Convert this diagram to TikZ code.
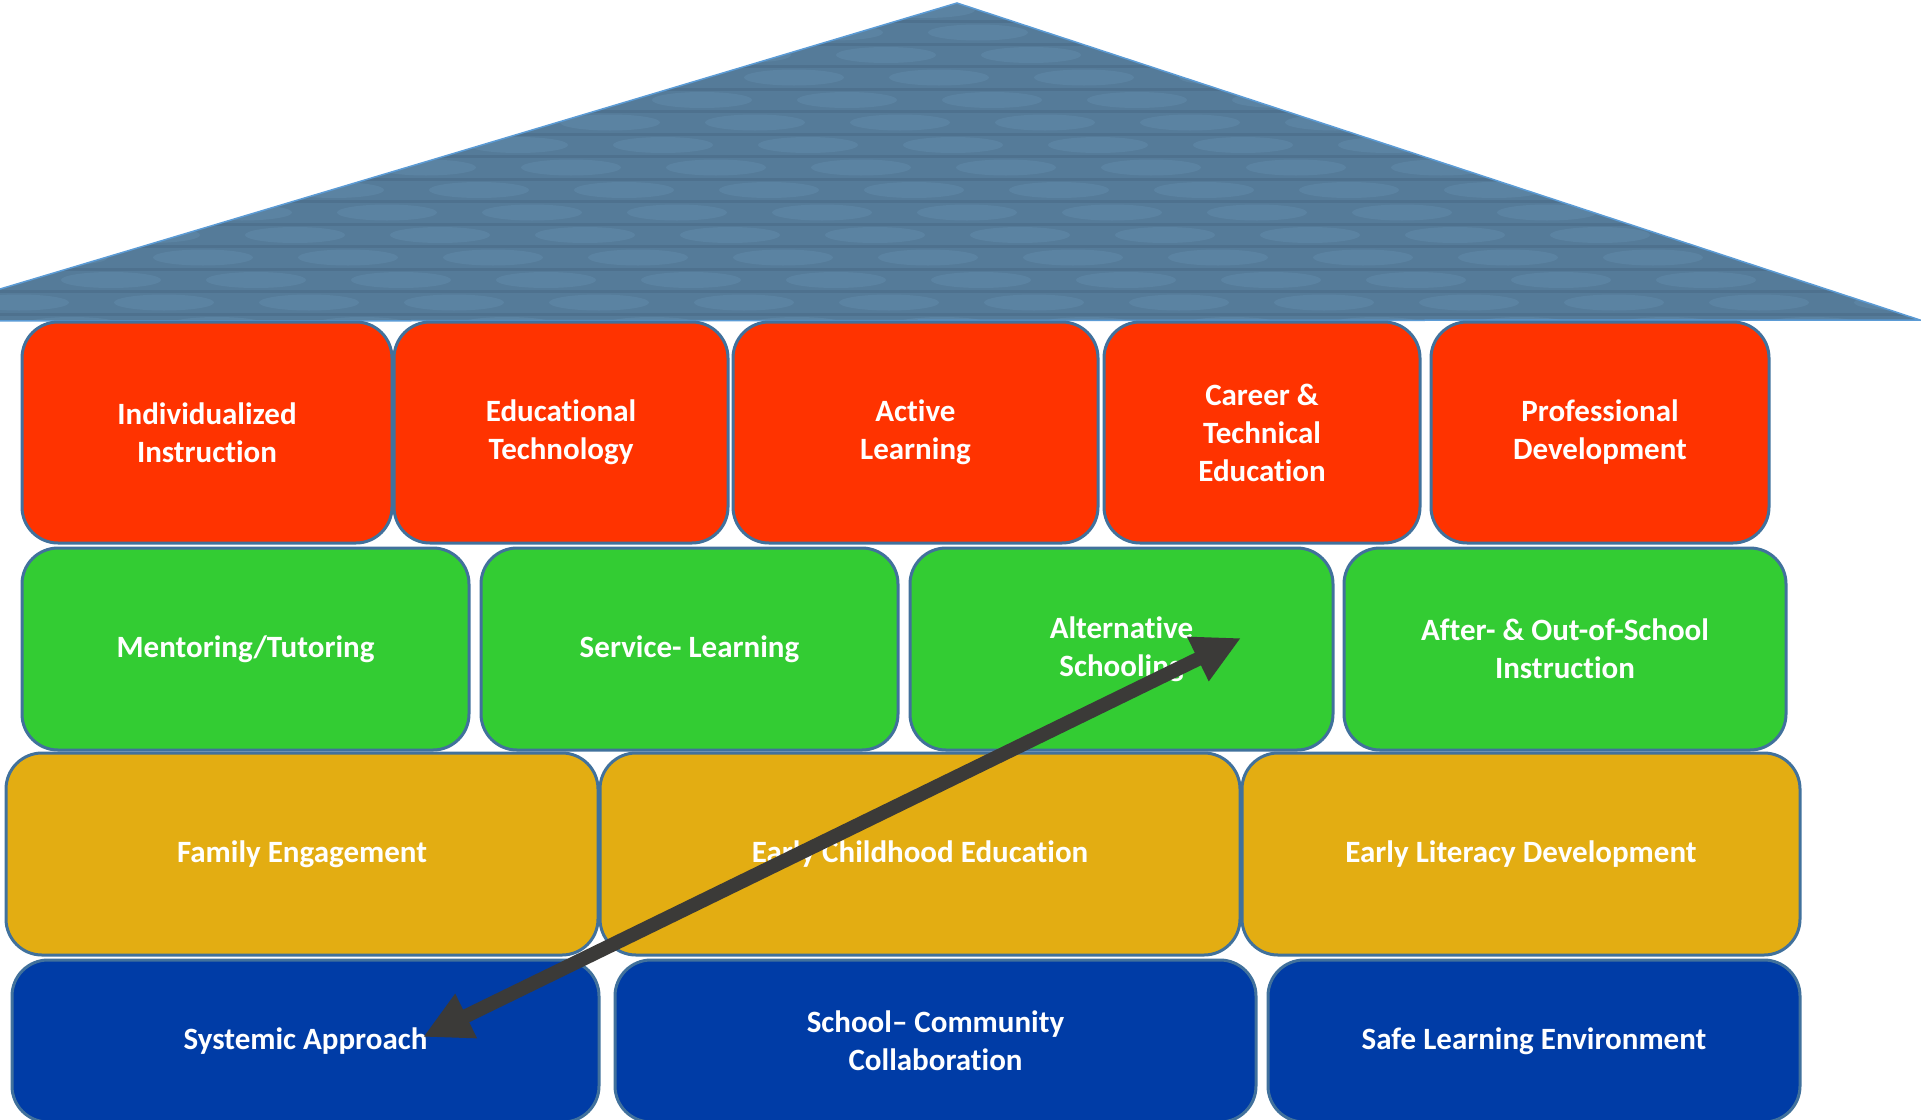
\documentclass[tikz,border=0pt]{standalone}
\usepackage{fontspec}
\setmainfont{Carlito}[Ligatures=NoCommon]
\usetikzlibrary{arrows.meta}
\definecolor{boxedge}{HTML}{41719C}
\definecolor{rowred}{HTML}{FF3300}
\definecolor{rowgreen}{HTML}{33CC33}
\definecolor{rowgold}{HTML}{E3AD12}
\definecolor{rowblue}{HTML}{003CA6}
\definecolor{roofbase}{HTML}{557B99}
\definecolor{rooflight}{HTML}{6690B0}
\definecolor{roofdark}{HTML}{3E5C76}
\definecolor{roofedge}{HTML}{5B9BD5}
\definecolor{arrowgray}{HTML}{3B3A38}
\tikzset{
  blk/.style={draw=boxedge, line width=3pt, rounded corners=36pt, text=white,
    font=\bfseries\fontsize{31pt}{38pt}\selectfont, align=center, inner sep=0pt,
    rectangle},
  bigarrow/.style={draw=arrowgray, line width=14pt,
    {Triangle[length=48pt,width=46pt]}-{Triangle[length=48pt,width=46pt]}}
}
\newcommand\houseblock[7]{%
  \node[blk, fill=#6, minimum width={(#4-#2)*1pt}, minimum height={(#5-#3)*1pt}]
    (#1) at ({(#2+#4)/2},{(#3+#5)/2}) {#7};}
\begin{document}
\begin{tikzpicture}[x=1pt,y=-1pt]
\useasboundingbox (0,0) rectangle (1921,1119);
\clip (0,0) rectangle (1921,1119);
% roof
\begin{scope}
  \clip (-107,321) -- (957,3) -- (1920,320) -- cycle;
  \fill[roofbase] (-120,0) rectangle (1930,322);
  \foreach \r in {0,...,14} {
    \pgfmathsetmacro\yy{10+\r*22.5}
    \pgfmathsetmacro\off{mod(\r*53,145)}
    \foreach \c in {0,...,14} {
      \fill[rooflight, opacity=0.4] ({\c*145+\off-90},\yy) ellipse [x radius=50pt, y radius=8pt];
    }
    \fill[roofdark, opacity=0.3] (-120,\yy+10) rectangle (1930,\yy+13);
  }
\end{scope}
\draw[roofedge, line width=1.5pt] (-107,321) -- (957,3) -- (1920,320) -- cycle;
% row 1
\houseblock{ii}{22}{322}{392}{543}{rowred}{Individualized\\Instruction}
\houseblock{et}{394}{322}{728}{543}{rowred}{Educational\\Technology}
\houseblock{al}{733}{322}{1098}{543}{rowred}{Active\\Learning}
\houseblock{cte}{1104}{322}{1420}{543}{rowred}{Career \&\\Technical\\Education}
\houseblock{pd}{1431}{322}{1769}{543}{rowred}{Professional\\Development}
% row 2
\houseblock{mt}{22}{548}{469}{750}{rowgreen}{Mentoring/Tutoring}
\houseblock{sl}{481}{548}{898}{750}{rowgreen}{Service- Learning}
\houseblock{as}{910}{548}{1333}{750}{rowgreen}{Alternative\\Schooling}
\houseblock{aos}{1344}{548}{1786}{750}{rowgreen}{After- \& Out-of-School\\Instruction}
% row 3
\houseblock{fe}{6}{753}{598}{955}{rowgold}{Family Engagement}
\houseblock{ece}{600}{753}{1240}{955}{rowgold}{Early Childhood Education}
\houseblock{eld}{1242}{753}{1800}{955}{rowgold}{Early Literacy Development}
% row 4
\houseblock{sa}{12}{960}{599}{1122}{rowblue}{Systemic Approach}
\houseblock{scc}{615}{960}{1256}{1122}{rowblue}{School– Community\\Collaboration}
\houseblock{sle}{1268}{960}{1800}{1122}{rowblue}{Safe Learning Environment}
% arrow
\coordinate (saend) at (423,1037);
\coordinate (asend) at (1241,638);
\draw[bigarrow] (saend) -- (asend);
\end{tikzpicture}
\end{document}
